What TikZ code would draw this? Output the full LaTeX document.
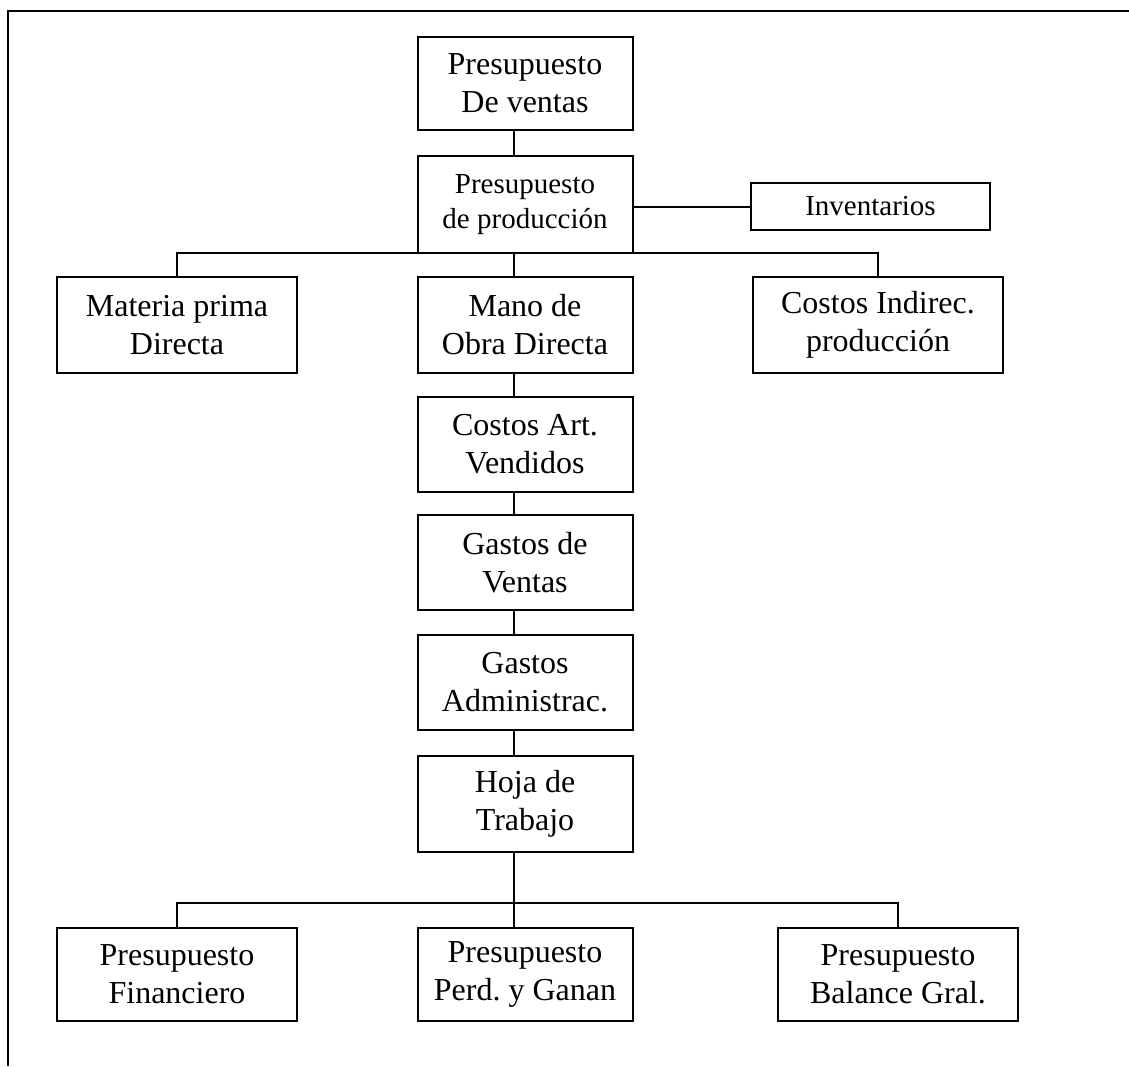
\documentclass[tikz,border=0pt]{standalone}
\usepackage{fontspec}
\setmainfont{Liberation Serif}
\usetikzlibrary{calc}
\frenchspacing
\begin{document}
\begin{tikzpicture}[x=1pt,y=-1pt,
  box/.style={draw, line width=2pt, rectangle, align=center, inner sep=0pt,
    font=\fontsize{32}{38}\selectfont},
  smallbox/.style={box, font=\fontsize{29}{35}\selectfont},
  link/.style={line width=2pt}]
\useasboundingbox (0,0) rectangle (1129,1066);

% page frame (top and left edges)
\draw[line width=2pt] (8,1066) -- (8,11) -- (1129,11);

% spine and bus positions
\coordinate (sx) at (514,0);
\coordinate (bus1) at (0,253);
\coordinate (bus2) at (0,903);

% central column
\node[box, minimum width=215pt, minimum height=93pt] (ventas) at (525,83.5) {Presupuesto\\De ventas};
\node[smallbox, minimum width=215pt, minimum height=97pt] (prod) at (525,204.5) {Presupuesto\\de producción};
\node[smallbox, minimum width=239pt, minimum height=47pt] (inv) at (870.5,206.5) {Inventarios};

\node[box, minimum width=240pt, minimum height=96pt] (mat) at (177,325) {Materia prima\\Directa};
\node[box, minimum width=215pt, minimum height=96pt] (mano) at (525,325) {Mano de\\Obra Directa};
\node[box, minimum width=250pt, minimum height=96pt] (cind) at (878,325) {Costos Indirec.\\producción};

\node[box, minimum width=215pt, minimum height=95pt] (cart) at (525,444.5) {Costos Art.\\Vendidos};
\node[box, minimum width=215pt, minimum height=95pt] (gven) at (525,562.5) {Gastos de\\Ventas};
\node[box, minimum width=215pt, minimum height=95pt] (gadm) at (525,682.5) {Gastos\\Administrac.};
\node[box, minimum width=215pt, minimum height=96pt] (hoja) at (525,804) {Hoja de\\Trabajo};

\node[box, minimum width=240pt, minimum height=93pt] (fin) at (177,974.5) {Presupuesto\\Financiero};
\node[box, minimum width=215pt, minimum height=93pt] (pyg) at (525,974.5) {Presupuesto\\Perd. y Ganan};
\node[box, minimum width=240pt, minimum height=93pt] (bal) at (898,974.5) {Presupuesto\\Balance Gral.};

% connectors
\draw[link] (ventas.south -| sx) -- (prod.north -| sx);
\draw[link] (prod.east |- inv.west) -- (inv.west);
\draw[link] (mat.north) |- (bus1 -| cind.north) -- (cind.north);
\draw[link] (bus1 -| sx) -- (mano.north -| sx);
\draw[link] (mano.south -| sx) -- (cart.north -| sx);
\draw[link] (cart.south -| sx) -- (gven.north -| sx);
\draw[link] (gven.south -| sx) -- (gadm.north -| sx);
\draw[link] (gadm.south -| sx) -- (hoja.north -| sx);
\draw[link] (hoja.south -| sx) -- (pyg.north -| sx);
\draw[link] (fin.north) |- (bus2 -| bal.north) -- (bal.north);
\end{tikzpicture}
\end{document}
